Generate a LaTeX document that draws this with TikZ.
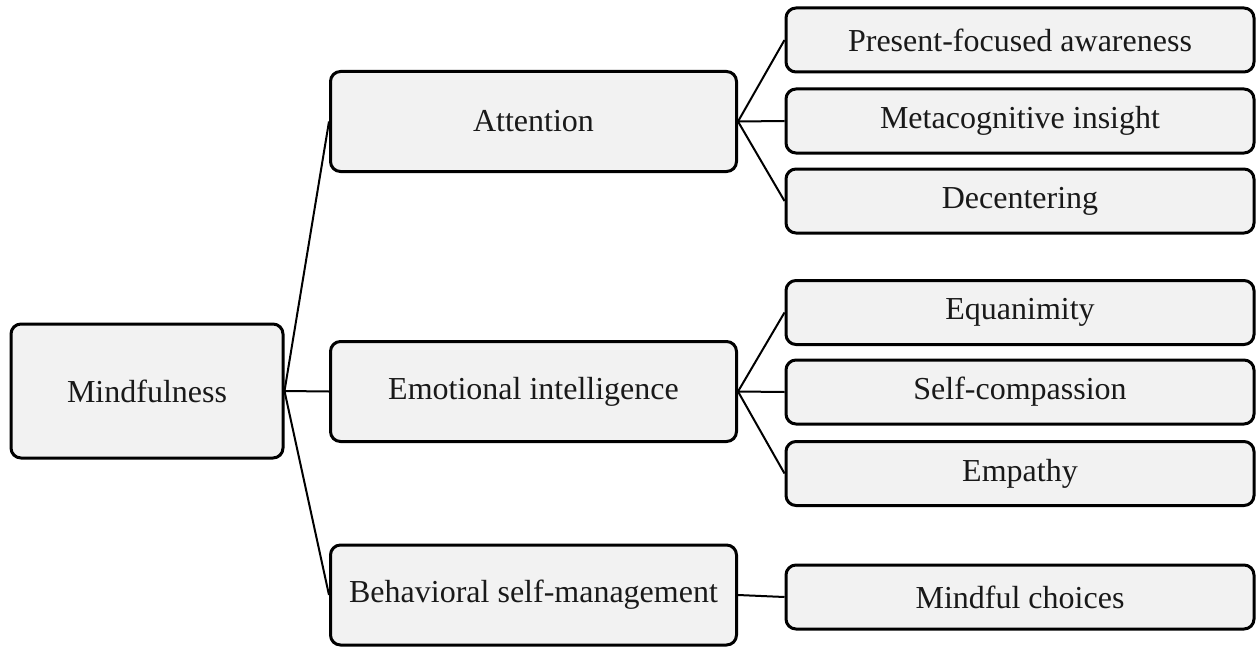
\documentclass[tikz,border=0pt]{standalone}
\usepackage{fontspec}
\setmainfont{Liberation Serif}
\usepackage{tikz}
\usepackage{xcolor}
\usetikzlibrary{
    positioning
}
\definecolor{boxfill}{HTML}{F2F2F2}
\tikzset{
    treebox/.style={draw=black, fill=boxfill, line width=1.5pt, rounded corners=5pt,
        inner sep=0pt, align=center, font=\fontsize{16}{19}\selectfont, text=black!90},
    link/.style={draw=black, line width=1pt}
}

\begin{document}
\begin{tikzpicture}[x=0.5pt, y=-0.5pt]
                        \useasboundingbox (0, 0) rectangle (1257, 647);
                        % root
                        \node[treebox, minimum width=136pt, minimum height=67pt] (mind) at (147, 391) {Mindfulness};
                        % facets
                        \node[treebox, minimum width=203pt, minimum height=50pt] (att) at (533.5, 121.5) {Attention};
                        \node[treebox, minimum width=203pt, minimum height=50pt] (emo) at (533.5, 391.5) {Emotional intelligence};
                        \node[treebox, minimum width=203pt, minimum height=50pt] (beh) at (533.5, 595) {Behavioral self-management};
                        % leaves
                        \node[treebox, minimum width=234pt, minimum height=32pt] (pfa) at (1020, 40) {Present-focused awareness};
                        \node[treebox, minimum width=234pt, minimum height=32pt] (meta) at (1020, 121) {Metacognitive insight};
                        \node[treebox, minimum width=234pt, minimum height=32pt] (dec) at (1020, 201) {Decentering};
                        \node[treebox, minimum width=234pt, minimum height=32pt] (equ) at (1020, 312.5) {Equanimity};
                        \node[treebox, minimum width=234pt, minimum height=32pt] (selfc) at (1020, 392) {Self-compassion};
                        \node[treebox, minimum width=234pt, minimum height=32pt] (emp) at (1020, 473.5) {Empathy};
                        \node[treebox, minimum width=234pt, minimum height=32pt] (choice) at (1020, 597) {Mindful choices};
                        % links
                        \foreach \to in {att, emo, beh}
                            \draw[link] (mind.east) -- (\to.west);
                        \foreach \to in {pfa, meta, dec}
                            \draw[link] (att.east) -- (\to.west);
                        \foreach \to in {equ, selfc, emp}
                            \draw[link] (emo.east) -- (\to.west);
                        \draw[link] (beh.east) -- (choice.west);
                    \end{tikzpicture}
\end{document}
